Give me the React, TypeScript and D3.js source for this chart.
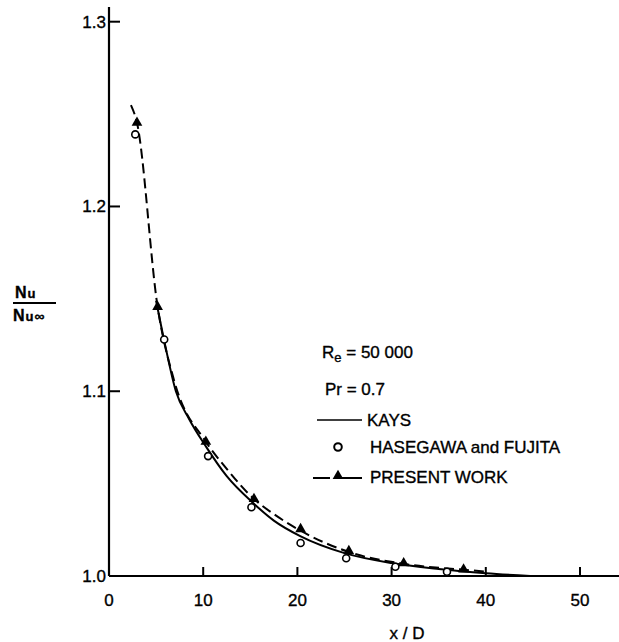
import React from "react";
import * as d3 from "d3";

const xTicks = [0, 10, 20, 30, 40, 50];
const yTicks = [1.0, 1.1, 1.2, 1.3];
const yTickLabels = ["1.0", "1.1", "1.2", "1.3"];

// Kays (solid curve)
const kaysX = [5.0, 6.0, 7.1, 8.5, 10.3, 12.5, 15.3, 17.5, 20.3, 25, 30, 35, 40, 44.7];
const kaysY = [1.149, 1.124, 1.1, 1.085, 1.07, 1.054, 1.0395, 1.03, 1.0216, 1.0124, 1.007, 1.0038, 1.0015, 1.0];

// Present work (dashed curve through triangles)
const presentLineX = [2.33, 2.97, 5.16, 6.9, 10.28, 12.5, 15.39, 17.5, 20.34, 25.46, 31.28, 37.64, 40];
const presentLineY = [1.2549, 1.2453, 1.1457, 1.106, 1.0727, 1.058, 1.0417, 1.0335, 1.0245, 1.013, 1.0066, 1.0034, 1.0024];

// Present work triangles
const triX = [2.97, 5.16, 10.28, 15.39, 20.34, 25.46, 31.28, 37.64];
const triY = [1.2453, 1.1457, 1.0727, 1.0417, 1.0254, 1.0135, 1.0069, 1.0036];

// Hasegawa and Fujita circles
const circX = [2.79, 5.86, 10.52, 15.12, 20.34, 25.18, 30.4, 35.88];
const circY = [1.239, 1.128, 1.0649, 1.0372, 1.0179, 1.0096, 1.005, 1.0023];

const W = 619;
const H = 642;
const FONT = "'Liberation Sans', Arial, sans-serif";

export default function App() {
  const x = d3.scaleLinear().domain([0, 50]).range([109, 580]);
  const y = d3.scaleLinear().domain([1.0, 1.3]).range([576, 21.7]);

  const line = d3
    .line<[number, number]>()
    .x((d) => x(d[0]))
    .y((d) => y(d[1]))
    .curve(d3.curveMonotoneX);

  const kays = kaysX.map((v, i) => [v, kaysY[i]] as [number, number]);
  const present = presentLineX.map((v, i) => [v, presentLineY[i]] as [number, number]);
  const tri = d3.symbol().type(d3.symbolTriangle).size(50)();

  const x0 = x(0);
  const y0 = y(1.0);

  const textStyle = { stroke: "#000", strokeWidth: 0.35 };

  return (
    <svg
      width={W}
      height={H}
      style={{ position: "absolute", left: 0, top: 0, background: "#fff" }}
      fontFamily={FONT}
    >
      <rect width={W} height={H} fill="#fff" />
      {/* axes */}
      <line x1={x0} x2={x0} y1={7} y2={y0} stroke="#000" strokeWidth={2.2} />
      <line x1={x0} x2={619} y1={y0} y2={y0} stroke="#000" strokeWidth={2.2} />
      <g style={textStyle}>
        {yTicks.map((t, i) => (
          <g key={"yt" + i}>
            {i > 0 && <line x1={x0} x2={x0 + 11} y1={y(t)} y2={y(t)} stroke="#000" strokeWidth={2} />}
            <text x={106} y={y(t) + 6} textAnchor="end" fontSize={17}>
              {yTickLabels[i]}
            </text>
          </g>
        ))}
        {xTicks.map((t, i) => (
          <g key={"xt" + i}>
            {i > 0 && <line x1={x(t)} x2={x(t)} y1={y0} y2={y0 - 9} stroke="#000" strokeWidth={2} />}
            <text x={x(t)} y={606} textAnchor="middle" fontSize={17}>
              {t}
            </text>
          </g>
        ))}
        <text x={407} y={639} textAnchor="middle" fontSize={17}>
          x / D
        </text>
        {/* y label */}
        <text x={15} y={298} fontSize={16} fontWeight="bold">
          N<tspan fontSize={13} dx={1}>u</tspan>
        </text>
        <text x={13} y={321} fontSize={16} fontWeight="bold">
          N<tspan fontSize={13} dx={1}>u</tspan>
          <tspan fontSize={14} dx={1}>∞</tspan>
        </text>

        {/* annotations */}
        <text x={322} y={358} fontSize={17}>
          R<tspan fontSize={13} dy={4}>e</tspan>
          <tspan dy={-4}> = 50 000</tspan>
        </text>
        <text x={325} y={395} fontSize={17}>
          Pr = 0.7
        </text>
        <text x={367} y={426} fontSize={17}>
          KAYS
        </text>
        <text x={370} y={453} fontSize={17}>
          HASEGAWA and FUJITA
        </text>
        <text x={370} y={483} fontSize={17}>
          PRESENT WORK
        </text>
      </g>
      <line x1={13} x2={56} y1={303} y2={303} stroke="#000" strokeWidth={2} />

      {/* curves */}
      <path d={line(kays) || ""} fill="none" stroke="#000" strokeWidth={2} />
      <path d={line(present) || ""} fill="none" stroke="#000" strokeWidth={2} strokeDasharray="10 5" />

      {/* markers */}
      {circX.map((v, i) => (
        <circle key={"c" + i} cx={x(v)} cy={y(circY[i])} r={3.5} fill="#fff" stroke="#000" strokeWidth={1.6} />
      ))}
      {triX.map((v, i) => (
        <path key={"t" + i} d={tri || ""} transform={`translate(${x(v)},${y(triY[i])})`} fill="#000" />
      ))}

      {/* legend */}
      <line x1={317} x2={362} y1={420} y2={420} stroke="#000" strokeWidth={1.6} />
      <circle cx={338} cy={447} r={3.8} fill="#fff" stroke="#000" strokeWidth={2} />
      <line x1={313} x2={362} y1={478} y2={478} stroke="#000" strokeWidth={2} strokeDasharray="17 8 30" />
      <path d={tri || ""} transform="translate(338,476)" fill="#000" />
    </svg>
  );
}
